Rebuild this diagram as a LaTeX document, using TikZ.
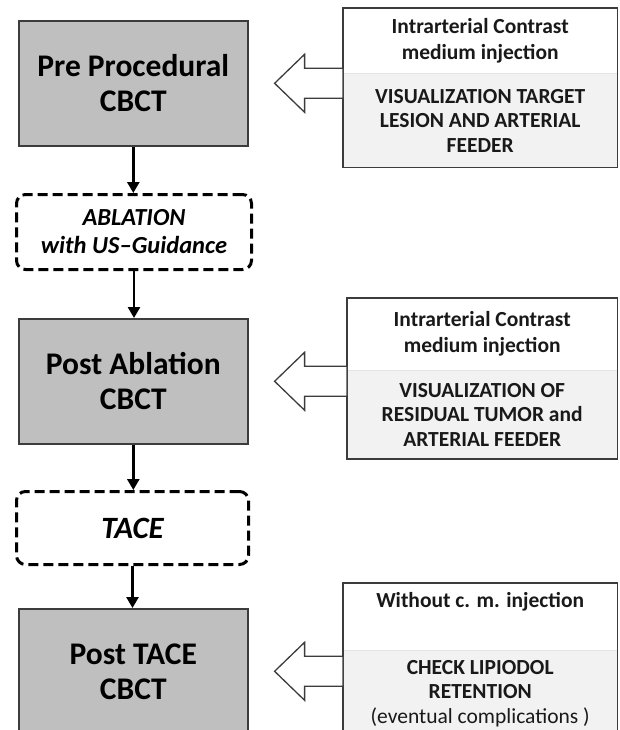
\documentclass[tikz,border=0pt]{standalone}
\usepackage{fontspec}
\setmainfont{Carlito}
\usepackage{xcolor}
\usetikzlibrary{arrows.meta,positioning,calc}

\definecolor{cbctgray}{RGB}{191,191,191}
\definecolor{framegray}{RGB}{60,60,60}
\definecolor{notegray}{RGB}{242,242,242}
\definecolor{inkgray}{RGB}{25,25,25}

\tikzset{
  cbct/.style={draw=framegray, line width=1.6pt, fill=cbctgray, anchor=north west,
    minimum width=229pt, minimum height=125pt, inner sep=0pt, align=center,
    font=\bfseries\fontsize{31.5}{35}\selectfont},
  stepbox/.style={draw=black, line width=3pt, dash pattern=on 10pt off 5pt,
    rounded corners=9pt, fill=white, anchor=north west, inner sep=0pt, align=center},
  notetop/.style={fill=white, anchor=north west, inner sep=0pt, align=center,
    text=inkgray, font=\bfseries\fontsize{21.5}{26}\selectfont},
  notebot/.style={fill=notegray, inner sep=0pt, align=center,
    text=inkgray, font=\bfseries\fontsize{21.5}{24.5}\selectfont},
  frame/.style={draw=framegray, line width=1.4pt},
  divider/.style={draw=gray!20, line width=0.8pt},
  flow/.style={line width=2.6pt, -{Triangle[length=11pt,width=12pt]}},
  hollow/.style={draw=framegray, line width=1.3pt, fill=white, line join=miter},
}

\begin{document}
\begin{tikzpicture}[x=1pt, y=-1pt]
\useasboundingbox (0,0) rectangle (619,730);

% main column
\node[cbct] (pre) at (18,20) {Pre Procedural\\CBCT};
\node[stepbox, minimum width=235pt, minimum height=75pt,
  font=\bfseries\itshape\fontsize{24.5}{28}\selectfont] (abl) at (15,193) {ABLATION\\with US--Guidance};
\node[cbct] (postabl) at (18,318) {Post Ablation\\CBCT};
\node[stepbox, minimum width=232pt, minimum height=73pt,
  font=\bfseries\itshape\fontsize{31}{32}\selectfont] (tace) at (15,490) {TACE};
\node[cbct] (posttace) at (18,608) {Post TACE\\CBCT};

\draw[flow] (pre) -- (pre |- abl.north);
\draw[flow] (abl) -- (abl |- postabl.north);
\draw[flow] (postabl) -- (postabl |- tace.north);
\draw[flow] (tace) -- (tace |- posttace.north);

% side notes
\node[notetop, minimum width=274pt, minimum height=65pt] (noteA) at (343,8)
  {Intrarterial Contrast\\medium injection};
\node[notebot, minimum width=274pt, minimum height=94pt, below=0pt of noteA] (noteAbot)
  {VISUALIZATION TARGET\\LESION AND ARTERIAL\\FEEDER};
\draw[divider] (noteA.south west) -- (noteA.south east);
\draw[frame] (noteA.north west) rectangle (noteAbot.south east);

\node[notetop, minimum width=270pt, minimum height=72pt] (noteB) at (347,298)
  {Intrarterial Contrast\\medium injection};
\node[notebot, minimum width=270pt, minimum height=88pt, below=0pt of noteB] (noteBbot)
  {VISUALIZATION OF\\RESIDUAL TUMOR and\\ARTERIAL FEEDER};
\draw[divider] (noteB.south west) -- (noteB.south east);
\draw[frame] (noteB.north west) rectangle (noteBbot.south east);

\node[notetop, minimum width=274pt, minimum height=67pt] (noteC) at (343,583)
  {Without c. m. injection\\\strut};
\node[notebot, minimum width=274pt, minimum height=86pt, below=0pt of noteC] (noteCbot)
  {CHECK LIPIODOL\\RETENTION\\{\mdseries\fontsize{21.5}{27}\selectfont (eventual complications )}};
\draw[divider] (noteC.south west) -- (noteC.south east);
\draw[frame] (noteC.north west) rectangle (noteCbot.south east);

% open arrows from the notes
\foreach \a/\b in {pre/noteA, postabl/noteB, posttace/noteC}
  \draw[hollow] let \p1=(\a.east), \p2=(\b.west) in
    (\x1+26pt,\y1) -- (\x1+56pt,\y1+29pt) -- (\x1+56pt,\y1+15pt) -- (\x2,\y1+15pt)
    -- (\x2,\y1-15pt) -- (\x1+56pt,\y1-15pt) -- (\x1+56pt,\y1-29pt) -- cycle;
\end{tikzpicture}
\end{document}
